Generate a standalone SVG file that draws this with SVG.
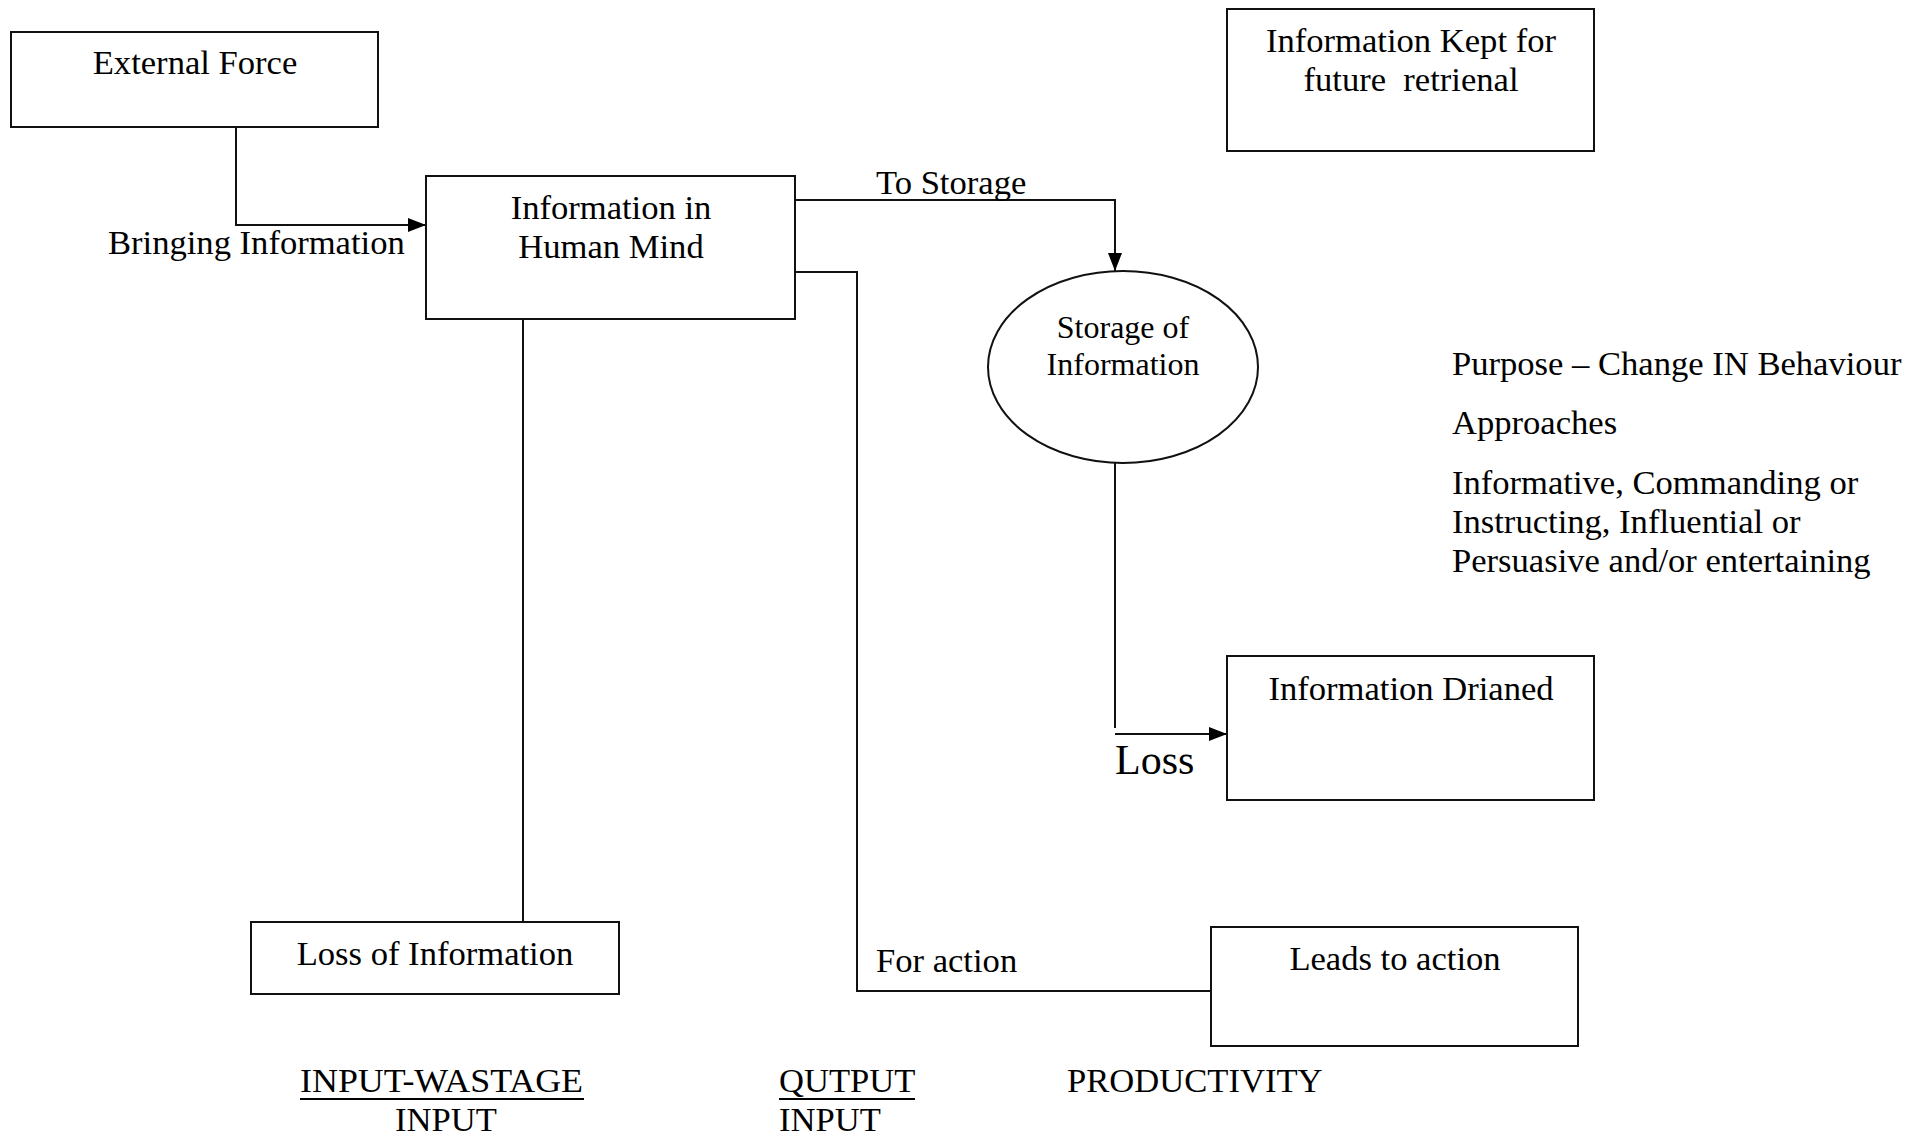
<svg xmlns="http://www.w3.org/2000/svg" width="1926" height="1139" viewBox="0 0 1926 1139">
  <style>
    .box { fill: #fff; stroke: #111; stroke-width: 2; }
    .wire { fill: none; stroke: #111; stroke-width: 2; }
    text { font-family: "Liberation Serif", "Times New Roman", serif; font-size: 34.6px; fill: #000; }
    .mid { text-anchor: middle; }
    .small { font-size: 32px; }
    .big { font-size: 42px; }
    .ul { stroke: #000; stroke-width: 2; }
  </style>
  <defs>
    <marker id="arrow" markerUnits="userSpaceOnUse" markerWidth="18" markerHeight="14" refX="18" refY="7" orient="auto">
      <path d="M0,0 L18,7 L0,14 z" fill="#000"/>
    </marker>
  </defs>
  <rect width="1926" height="1139" fill="#fff"/>

  <!-- connectors -->
  <g id="connectors">
    <polyline class="wire" points="236,127 236,225 426,225" marker-end="url(#arrow)"/>
    <polyline class="wire" points="795,200 1115,200 1115,271" marker-end="url(#arrow)"/>
    <polyline class="wire" points="795,272 857,272 857,991 1211,991"/>
    <line class="wire" x1="523" y1="319" x2="523" y2="922"/>
    <line class="wire" x1="1115" y1="463" x2="1115" y2="728"/>
    <line class="wire" x1="1115" y1="734" x2="1227" y2="734" marker-end="url(#arrow)"/>
    <text x="108" y="254">Bringing Information</text>
    <text x="876" y="194">To Storage</text>
    <text x="876" y="972">For action</text>
    <text class="big" x="1115" y="774">Loss</text>
  </g>

  <g id="external-force">
    <rect class="box" x="11" y="32" width="367" height="95"/>
    <text class="mid" x="195" y="74">External Force</text>
  </g>

  <g id="human-mind">
    <rect class="box" x="426" y="176" width="369" height="143"/>
    <text class="mid" x="611" y="219">Information in</text>
    <text class="mid" x="611" y="258">Human Mind</text>
  </g>

  <g id="kept">
    <rect class="box" x="1227" y="9" width="367" height="142"/>
    <text class="mid" x="1411" y="52">Information Kept for</text>
    <text class="mid" x="1411" y="91" xml:space="preserve">future  retrienal</text>
  </g>

  <g id="storage">
    <ellipse class="box" cx="1123" cy="367" rx="135" ry="96"/>
    <text class="mid small" x="1123" y="338">Storage of</text>
    <text class="mid small" x="1123" y="375">Information</text>
  </g>

  <g id="drained">
    <rect class="box" x="1227" y="656" width="367" height="144"/>
    <text class="mid" x="1411" y="700">Information Drianed</text>
  </g>

  <g id="loss-of-information">
    <rect class="box" x="251" y="922" width="368" height="72"/>
    <text class="mid" x="435" y="965">Loss of Information</text>
  </g>

  <g id="leads-to-action">
    <rect class="box" x="1211" y="927" width="367" height="119"/>
    <text class="mid" x="1395" y="970">Leads to action</text>
  </g>

  <!-- notes on the right -->
  <g id="notes">
    <text x="1452" y="375">Purpose – Change IN Behaviour</text>
    <text x="1452" y="434">Approaches</text>
    <text x="1452" y="494">Informative, Commanding or</text>
    <text x="1452" y="533">Instructing, Influential or</text>
    <text x="1452" y="572">Persuasive and/or entertaining</text>
  </g>

  <!-- footer ratios -->
  <g id="footer">
    <text x="300" y="1092" textLength="283" lengthAdjust="spacingAndGlyphs">INPUT-WASTAGE</text>
    <line class="ul" x1="300" y1="1099" x2="584" y2="1099"/>
    <text class="mid" x="446" y="1131">INPUT</text>
    <text x="779" y="1092">QUTPUT</text>
    <line class="ul" x1="779" y1="1099" x2="915" y2="1099"/>
    <text x="779" y="1131">INPUT</text>
    <text x="1067" y="1092">PRODUCTIVITY</text>
  </g>
</svg>
